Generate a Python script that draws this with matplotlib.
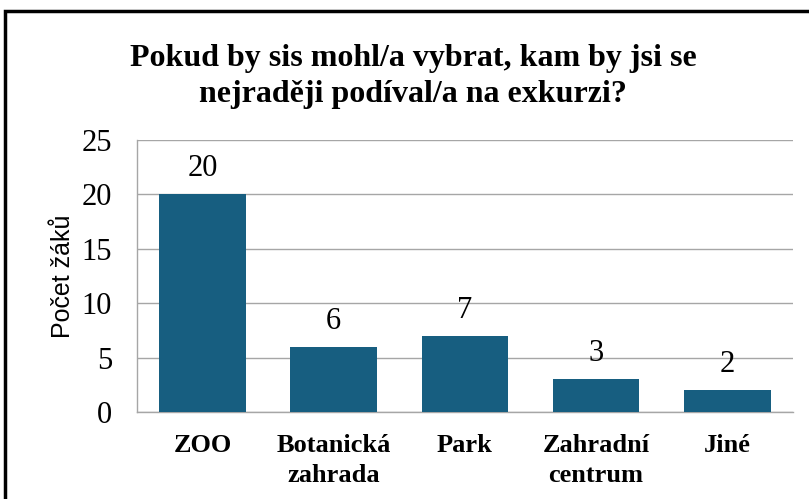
import matplotlib.pyplot as plt
from matplotlib.patches import Rectangle

categories = ['ZOO', 'Botanická\nzahrada', 'Park', 'Zahradní\ncentrum', 'Jiné']
values = [20, 6, 7, 3, 2]
title = 'Pokud by sis mohl/a vybrat, kam by jsi se\nnejraději podíval/a na exkurzi?'

serif = 'Liberation Serif'
bar_color = '#175E80'
grid_color = '#A6A6A6'

fig = plt.figure(figsize=(8.09, 4.99), dpi=100)
ax = fig.add_axes([0.1693, 0.1743, 0.8107, 0.5451])

x = range(len(categories))
bars = ax.bar(x, values, width=0.66, color=bar_color, zorder=3)

for rect, v in zip(bars, values):
    ax.annotate(str(v), (rect.get_x() + rect.get_width() / 2, v),
                xytext=(0, 8), textcoords='offset points',
                ha='center', va='bottom', fontsize=22, family=serif, zorder=4)

ax.set_ylim(0, 25)
ax.set_xlim(-0.5, len(categories) - 0.5)
ax.set_yticks(range(0, 26, 5))
ax.set_xticks(list(x))
ax.set_xticklabels(categories, fontsize=19, fontweight='bold', family=serif, linespacing=1.35)
ax.tick_params(axis='y', length=0, pad=18, labelsize=22)
ax.tick_params(axis='x', length=0, pad=16)
for lab in ax.get_yticklabels():
    lab.set_family(serif)

ax.yaxis.grid(True, color=grid_color, linewidth=1, zorder=0)
for side in ['top', 'right']:
    ax.spines[side].set_visible(False)
for side in ['left', 'bottom']:
    ax.spines[side].set_color(grid_color)
    ax.spines[side].set_linewidth(1)

ax.set_ylabel('Počet žáků', fontsize=18, family='Liberation Sans')
ax.yaxis.set_label_coords(-0.095, 0.5)

fig.text(0.511, 0.847, title, ha='center', va='center', fontsize=23,
         fontweight='bold', family=serif, linespacing=1.3)

# outer chart frame
fig.patches.append(Rectangle((5 / 809, -0.1), 1.2, 1 - 11 / 499 + 0.1,
                             transform=fig.transFigure, fill=False,
                             edgecolor='black', linewidth=2.5))

fig.savefig('out.png', dpi=100)
